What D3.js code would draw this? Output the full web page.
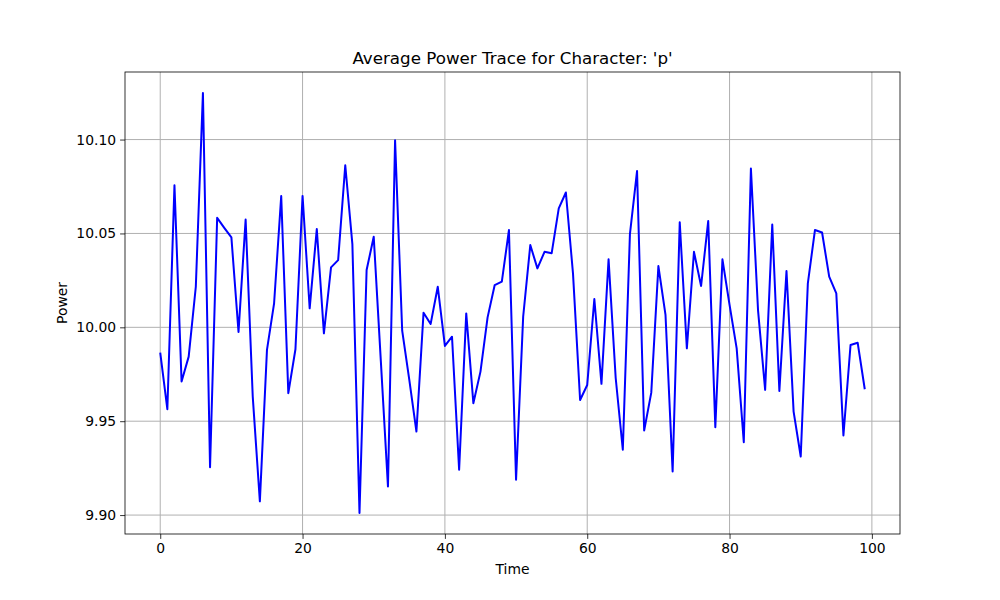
<!DOCTYPE html>
<html>
<head>
<meta charset="utf-8">
<script src="https://cdn.jsdelivr.net/npm/d3@7"></script>
<style>
  html, body { margin: 0; padding: 0; background: #fff; overflow: hidden; }
  svg { display: block; }
  text { font-family: "DejaVu Sans", sans-serif; }
</style>
</head>
<body>
<div id="chart"></div>
<script>
// Average power trace, one value per time step (0..99)
const power = [
  9.9865, 9.9564, 10.0757, 9.9711, 9.9844, 10.0216, 10.1248, 9.9255, 10.0583, 10.0530,
  10.0479, 9.9975, 10.0574, 9.9631, 9.9073, 9.9880, 10.0128, 10.0699, 9.9649, 9.9883,
  10.0700, 10.0101, 10.0523, 9.9968, 10.0319, 10.0358, 10.0863, 10.0443, 9.9011, 10.0305,
  10.0482, 9.9820, 9.9152, 10.0996, 9.9982, 9.9720, 9.9445, 10.0078, 10.0018, 10.0216,
  9.9901, 9.9950, 9.9241, 10.0074, 9.9596, 9.9764, 10.0053, 10.0225, 10.0243, 10.0518,
  9.9188, 10.0057, 10.0438, 10.0314, 10.0402, 10.0394, 10.0633, 10.0718, 10.0287, 9.9613,
  9.9693, 10.0151, 9.9699, 10.0362, 9.9730, 9.9348, 10.0496, 10.0832, 9.9450, 9.9652,
  10.0326, 10.0066, 9.9232, 10.0559, 9.9888, 10.0402, 10.0220, 10.0566, 9.9468, 10.0362,
  10.0120, 9.9888, 9.9388, 10.0846, 10.0092, 9.9667, 10.0548, 9.9661, 10.0300, 9.9551,
  9.9312, 10.0234, 10.0518, 10.0505, 10.0270, 10.0181, 9.9424, 9.9906, 9.9918, 9.9670
];
const time = power.map((_, i) => i);
const xTicks = [0, 20, 40, 60, 80, 100];
const yTicks = [9.90, 9.95, 10.00, 10.05, 10.10];

const width = 1000, height = 600;
const margin = { top: 72, right: 100, bottom: 66, left: 125 };
const innerWidth = width - margin.left - margin.right;
const innerHeight = height - margin.top - margin.bottom;

// matplotlib-style 5% padding around the data
const xExt = d3.extent(time), yExt = d3.extent(power);
const xPad = (xExt[1] - xExt[0]) * 0.05, yPad = (yExt[1] - yExt[0]) * 0.05;

const x = d3.scaleLinear().domain([xExt[0] - xPad, xExt[1] + xPad]).range([0, innerWidth]);
const y = d3.scaleLinear().domain([yExt[0] - yPad, yExt[1] + yPad]).range([innerHeight, 0]);

const svg = d3.select("#chart").append("svg")
  .attr("width", width)
  .attr("height", height);

const g = svg.append("g").attr("transform", `translate(${margin.left},${margin.top})`);

// grid
g.append("g").selectAll("line").data(xTicks).enter().append("line")
  .attr("x1", d => x(d)).attr("x2", d => x(d))
  .attr("y1", 0).attr("y2", innerHeight)
  .attr("stroke", "#b0b0b0").attr("stroke-width", 1);
g.append("g").selectAll("line").data(yTicks).enter().append("line")
  .attr("y1", d => y(d)).attr("y2", d => y(d))
  .attr("x1", 0).attr("x2", innerWidth)
  .attr("stroke", "#b0b0b0").attr("stroke-width", 1);

// line
const line = d3.line().x((d, i) => x(time[i])).y(d => y(d));
g.append("path")
  .datum(power)
  .attr("fill", "none")
  .attr("stroke", "#0000ff")
  .attr("stroke-width", 2)
  .attr("stroke-linejoin", "round")
  .attr("d", line);

// axes
const xAxis = g.append("g")
  .attr("transform", `translate(0,${innerHeight})`)
  .call(d3.axisBottom(x).tickValues(xTicks).tickSize(4.9).tickPadding(4).tickFormat(d3.format("d")));
const yAxis = g.append("g")
  .call(d3.axisLeft(y).tickValues(yTicks).tickSize(4.9).tickPadding(4).tickFormat(d3.format(".2f")));

[xAxis, yAxis].forEach(a => {
  a.select(".domain").remove();
  a.selectAll("text").attr("font-size", "13.9px").attr("fill", "#000")
    .attr("font-family", "DejaVu Sans, sans-serif");
  a.selectAll(".tick line").attr("stroke", "#000").attr("stroke-width", 0.8);
});

// frame
g.append("rect")
  .attr("width", innerWidth).attr("height", innerHeight)
  .attr("fill", "none").attr("stroke", "#000").attr("stroke-width", 0.8);

// title and labels
svg.append("text")
  .attr("x", margin.left + innerWidth / 2)
  .attr("y", margin.top - 8)
  .attr("text-anchor", "middle")
  .attr("font-size", "16.7px")
  .text("Average Power Trace for Character: 'p'");

svg.append("text")
  .attr("x", margin.left + innerWidth / 2)
  .attr("y", 574)
  .attr("text-anchor", "middle")
  .attr("font-size", "13.9px")
  .text("Time");

svg.append("text")
  .attr("transform", `translate(67,${margin.top + innerHeight / 2}) rotate(-90)`)
  .attr("text-anchor", "middle")
  .attr("font-size", "13.9px")
  .text("Power");
</script>
</body>
</html>
